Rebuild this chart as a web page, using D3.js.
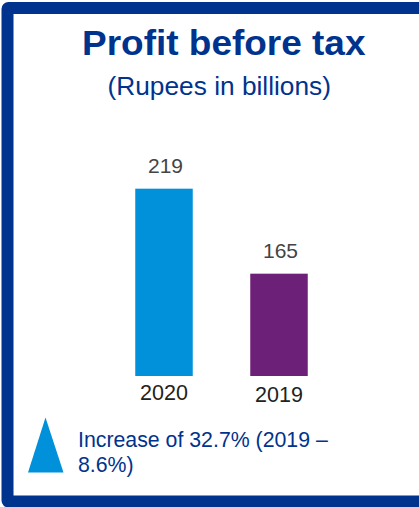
<!DOCTYPE html>
<html>
<head>
<meta charset="utf-8">
<script src="https://cdn.jsdelivr.net/npm/d3@7"></script>
<style>
  html, body { margin: 0; padding: 0; background: #ffffff; }
  svg { display: block; }
  text { font-family: "Liberation Sans", Arial, Helvetica, sans-serif; }
</style>
</head>
<body>
<script>
// Profit before tax, Rupees in billions
const years = ["2020", "2019"];
const profit = [219, 165];
const barColors = ["#0091DA", "#6D2077"];
const titleText = "Profit before tax";
const subtitleText = "(Rupees in billions)";
const noteLines = ["Increase of 32.7% (2019 \u2013", "8.6%)"];

const W = 419, H = 507;
const navy = "#00338D";

const svg = d3.select("body").append("svg")
  .attr("width", W).attr("height", H);

// Frame: thick navy border, open on the right side
svg.append("rect")
  .attr("x", 7.5).attr("y", 8)
  .attr("width", 600).attr("height", 493.5)
  .attr("rx", 1)
  .attr("fill", "none")
  .attr("stroke", navy)
  .attr("stroke-width", 12)
  .attr("stroke-linejoin", "round");

// Titles (slightly widened lettering)
svg.append("text")
  .attr("x", 82).attr("y", 55)
  .attr("font-size", 35.5).attr("font-weight", "bold")
  .attr("textLength", 283.5)
  .attr("lengthAdjust", "spacingAndGlyphs")
  .attr("fill", navy)
  .text(titleText);

svg.append("text")
  .attr("x", 107.5).attr("y", 95)
  .attr("font-size", 25)
  .attr("textLength", 223.5)
  .attr("lengthAdjust", "spacingAndGlyphs")
  .attr("fill", navy)
  .text(subtitleText);

// Scales (value axis starts at 100)
const x = d3.scaleBand()
  .domain(years)
  .range([106.5, 336.5])
  .paddingInner(0.5)
  .paddingOuter(0.25);

const y = d3.scaleLinear()
  .domain([100, 220])
  .range([376, 187.1]);

const data = years.map((yr, i) => ({ year: yr, value: profit[i], color: barColors[i] }));

// Bars
svg.append("g").selectAll("rect")
  .data(data)
  .join("rect")
  .attr("x", d => x(d.year))
  .attr("y", d => y(d.value))
  .attr("width", x.bandwidth())
  .attr("height", d => y.range()[0] - y(d.value))
  .attr("fill", d => d.color);

// Value labels
svg.append("g").selectAll("text")
  .data(data)
  .join("text")
  .attr("x", d => x(d.year) + x.bandwidth() / 2 + 1.5)
  .attr("y", d => y(d.value) - 15.5)
  .attr("text-anchor", "middle")
  .attr("font-size", 21)
  .attr("fill", "#444444")
  .text(d => d.value);

// Category axis (labels only)
const axis = svg.append("g")
  .attr("transform", `translate(0,${y.range()[0]})`)
  .call(d3.axisBottom(x).tickSize(0).tickPadding(9));
axis.select(".domain").remove();
axis.selectAll("text")
  .attr("font-family", "Liberation Sans, Arial, sans-serif")
  .attr("font-size", 21.5)
  .attr("fill", "#222222")
  .attr("dy", (d, i) => i === 0 ? "0.71em" : "0.8em");

// Increase marker and note
svg.append("path")
  .attr("d", d3.line()([[45.5, 417.5], [63.5, 472.5], [28, 472.5]]) + "Z")
  .attr("fill", "#0091DA");

svg.append("g").selectAll("text")
  .data(noteLines)
  .join("text")
  .attr("x", 78)
  .attr("y", (d, i) => 446.5 + i * 25.2)
  .attr("font-size", 21.3)
  .attr("fill", navy)
  .text(d => d);
</script>
</body>
</html>
